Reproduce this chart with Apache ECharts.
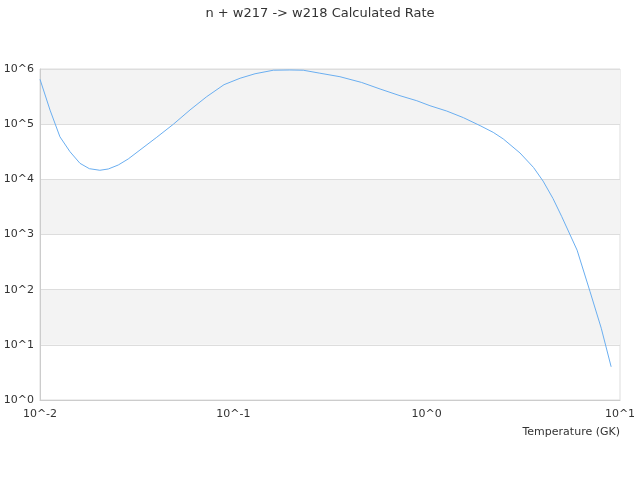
<!DOCTYPE html>
<html>
<head>
<meta charset="utf-8">
<script src="https://cdn.jsdelivr.net/npm/echarts@6/dist/echarts.min.js"></script>
<style>html,body{margin:0;padding:0;background:#fff}#c{width:640px;height:480px}</style>
</head>
<body>
<div id="c"></div>
<script>
var temperatures = [0.01, 0.01127, 0.01268, 0.01429, 0.0161, 0.018, 0.0204, 0.02255, 0.0254, 0.0286, 0.0329, 0.0402, 0.049, 0.0597, 0.0728, 0.0895, 0.1084, 0.1295, 0.161, 0.196, 0.23, 0.28, 0.356, 0.461, 0.574, 0.728, 0.889, 1.04, 1.27, 1.55, 1.89, 2.21, 2.49, 3.04, 3.57, 4.0, 4.5, 5.0, 6.0, 7.0, 8.0, 9.0];
var rates = [6.5e5, 1.8e5, 5.9e4, 3.17e4, 1.95e4, 1.56e4, 1.46e4, 1.54e4, 1.82e4, 2.34e4, 3.4e4, 5.8e4, 1.0e5, 1.81e5, 3.15e5, 5.2e5, 6.8e5, 8.2e5, 9.5e5, 9.6e5, 9.5e5, 8.4e5, 7.25e5, 5.7e5, 4.34e5, 3.28e5, 2.66e5, 2.16e5, 1.73e5, 1.31e5, 9.4e4, 7.1e4, 5.4e4, 3.0e4, 1.64e4, 9.3e3, 4.5e3, 2.1e3, 520, 92, 20, 4.0];
var titleText = 'n + w217 -> w218 Calculated Rate';
var xAxisName = 'Temperature (GK)';

function powLabel(v) {
  return '10^' + Math.round(Math.log10(v));
}

var seriesData = temperatures.map(function (t, i) { return [t, rates[i]]; });

var chart = echarts.init(document.getElementById('c'), null, { renderer: 'canvas' });
chart.setOption({
  animation: false,
  title: {
    text: titleText,
    left: 'center',
    top: 2,
    textStyle: { fontSize: 13, fontWeight: 'normal', color: '#333', fontFamily: 'DejaVu Sans' }
  },
  grid: { left: 40, right: 20, top: 69, bottom: 80, show: true, borderColor: '#ddd', borderWidth: 1, backgroundColor: 'transparent' },
  xAxis: {
    type: 'log',
    logBase: 10,
    min: 0.01,
    max: 10,
    name: xAxisName,
    nameLocation: 'end',
    nameGap: 0,
    nameTextStyle: { color: '#333', fontSize: 11, fontFamily: 'DejaVu Sans', align: 'right', verticalAlign: 'top', padding: [27, 0, 0, 0] },
    axisLine: { show: true, lineStyle: { color: '#ccc' } },
    axisTick: { show: false },
    splitLine: { show: false },
    axisLabel: { color: '#333', fontSize: 11, fontFamily: 'DejaVu Sans', formatter: powLabel, margin: 9 }
  },
  yAxis: {
    type: 'log',
    logBase: 10,
    min: 1,
    max: 1e6,
    axisLine: { show: true, lineStyle: { color: '#ccc' } },
    axisTick: { show: false },
    splitLine: { show: true, lineStyle: { color: '#ddd' } },
    splitArea: { show: true, areaStyle: { color: ['rgba(255,255,255,0)', '#f3f3f3'] } },
    axisLabel: { color: '#333', fontSize: 11, fontFamily: 'DejaVu Sans', formatter: powLabel, margin: 6 }
  },
  series: [{
    type: 'line',
    data: seriesData,
    showSymbol: false,
    symbol: 'none',
    lineStyle: { color: '#6aaef0', width: 1 },
    itemStyle: { color: '#6aaef0' }
  }]
});
</script>
</body>
</html>
